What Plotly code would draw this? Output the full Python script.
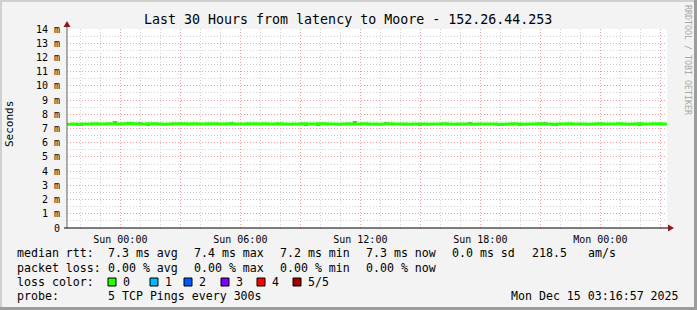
import plotly.graph_objects as go
import pandas as pd

# ---------------- data ----------------
title_text = "Last 30 Hours from latency to Moore - 152.26.44.253"
x_start = "2025-12-13 21:20"
x_end = "2025-12-15 03:20"
step = "15min"

median_ms = [
    7.30, 7.31, 7.28, 7.31, 7.32, 7.33, 7.32, 7.31, 7.33, 7.34, 7.32, 7.33,
    7.35, 7.33, 7.32, 7.31, 7.33, 7.34, 7.32, 7.30, 7.32, 7.33, 7.34, 7.33,
    7.32, 7.33, 7.31, 7.32, 7.34, 7.33, 7.32, 7.31, 7.33, 7.32, 7.31, 7.32,
    7.33, 7.34, 7.32, 7.33, 7.31, 7.32, 7.33, 7.32, 7.30, 7.31, 7.32, 7.33,
    7.32, 7.31, 7.33, 7.34, 7.32, 7.31, 7.30, 7.32, 7.33, 7.31, 7.32, 7.33,
    7.31, 7.32, 7.30, 7.31, 7.33, 7.32, 7.31, 7.32, 7.30, 7.31, 7.32, 7.31,
    7.30, 7.32, 7.31, 7.33, 7.32, 7.30, 7.31, 7.32, 7.31, 7.30, 7.32, 7.31,
    7.32, 7.31, 7.29, 7.30, 7.32, 7.33, 7.31, 7.30, 7.32, 7.31, 7.33, 7.32,
    7.31, 7.28, 7.32, 7.31, 7.33, 7.32, 7.31, 7.32, 7.30, 7.31, 7.33, 7.32,
    7.31, 7.32, 7.33, 7.31, 7.30, 7.32, 7.33, 7.32, 7.31, 7.33, 7.34, 7.32,
    7.33,
]

smoke_times = [
    "2025-12-13 21:44", "2025-12-13 23:44", "2025-12-14 00:05", "2025-12-14 00:59",
    "2025-12-14 01:23", "2025-12-14 03:59", "2025-12-14 05:35", "2025-12-14 09:17",
    "2025-12-14 09:53", "2025-12-14 11:44", "2025-12-14 13:17", "2025-12-14 14:59",
    "2025-12-14 17:29", "2025-12-14 19:59", "2025-12-14 21:14", "2025-12-14 22:59",
    "2025-12-15 00:29", "2025-12-15 01:59",
]
smoke_lo = [7.22, 7.30, 7.22, 7.30, 7.20, 7.22, 7.30, 7.18, 7.20, 7.30, 7.30, 7.22,
            7.30, 7.20, 7.30, 7.22, 7.30, 7.20]
smoke_hi = [7.40, 7.52, 7.40, 7.46, 7.36, 7.38, 7.44, 7.36, 7.34, 7.50, 7.46, 7.36,
            7.44, 7.36, 7.46, 7.38, 7.42, 7.36]

grid_start = "2025-12-14 00:00"
grid_end = "2025-12-15 03:00"
x_tick_labels = {"2025-12-14 00:00": "Sun 00:00", "2025-12-14 06:00": "Sun 06:00",
                 "2025-12-14 12:00": "Sun 12:00", "2025-12-14 18:00": "Sun 18:00",
                 "2025-12-15 00:00": "Mon 00:00"}
y_tick_values = list(range(0, 15))
y_tick_labels = ["0"] + [f"{v} m" for v in range(1, 15)]

legend_rtt = ["7.3 ms avg", "7.4 ms max", "7.2 ms min", "7.3 ms now", "0.0 ms sd", "218.5", "am/s"]
legend_loss = ["0.00 % avg", "0.00 % max", "0.00 % min", "0.00 % now"]
loss_labels = ["0", "1", "2", "3", "4", "5/5"]
loss_colors = ["#26ff00", "#00b8ff", "#0059ff", "#7e00ff", "#ff0000", "#a00000"]
probe_text = "5 TCP Pings every 300s"
stamp_text = "Mon Dec 15 03:16:57 2025"

# ---------------- geometry helpers ----------------
W, H = 697, 310
L, T, PW, PH = 67, 29, 600, 199
def px(x):
    return (x - L) / PW
def py(y):
    return (T + PH - y) / PH

MONO = "DejaVu Sans Mono"

times = pd.date_range(x_start, periods=len(median_ms), freq=step)
grid_times = pd.date_range(grid_start, grid_end, freq="3h")
tickvals = [t.strftime("%Y-%m-%d %H:%M") for t in grid_times]
ticktext = [x_tick_labels.get(v, "") for v in tickvals]

fig = go.Figure()
fig.add_trace(go.Bar(
    x=pd.to_datetime(smoke_times),
    y=[h - l for h, l in zip(smoke_hi, smoke_lo)],
    base=smoke_lo,
    width=10 * 60 * 1000,
    marker=dict(color="#9a9a9a", line=dict(width=0)),
    hoverinfo="skip",
))
fig.add_trace(go.Scatter(
    x=times, y=median_ms, mode="lines",
    line=dict(color="#26ff00", width=3, shape="hv"),
))

fig.update_layout(
    width=W, height=H,
    margin=dict(l=L, r=W - L - PW, t=T, b=H - T - PH, pad=0),
    paper_bgcolor="#f3f3f3",
    plot_bgcolor="#ffffff",
    showlegend=False,
    font=dict(family=MONO, size=10, color="#000000"),
    bargap=0,
)
fig.update_xaxes(
    type="date", range=[x_start, x_end],
    tickmode="array", tickvals=tickvals, ticktext=ticktext,
    ticks="", ticklabelstandoff=4,
    tickfont=dict(family=MONO, size=10),
    showgrid=True, gridcolor="#f0a0a0", griddash="1px,2px", gridwidth=1,
    minor=dict(dtick=3600000, tick0="2025-12-13 00:00", showgrid=True,
               gridcolor="#d2d2d2", griddash="1px,2px", gridwidth=1),
    showline=False, zeroline=False,
)
fig.update_yaxes(
    range=[0, 14],
    tickmode="array", tickvals=y_tick_values, ticktext=y_tick_labels,
    ticks="", ticklabelstandoff=6,
    tickfont=dict(family=MONO, size=10),
    showgrid=True, gridcolor="#f0a0a0", griddash="1px,2px", gridwidth=1,
    minor=dict(dtick=0.5, showgrid=True, gridcolor="#d2d2d2", griddash="1px,2px", gridwidth=1),
    showline=False, zeroline=False,
)

shapes = []
# axis lines with arrows
shapes.append(dict(type="line", xref="paper", yref="paper", x0=px(67), x1=px(67), y0=py(228), y1=py(25),
                   line=dict(color="#606060", width=1)))
shapes.append(dict(type="line", xref="paper", yref="paper", x0=px(64), x1=px(670), y0=py(228), y1=py(228),
                   line=dict(color="#000000", width=1)))
shapes.append(dict(type="path", xref="paper", yref="paper",
                   path=f"M {px(63.5)},{py(27)} L {px(70.5)},{py(27)} L {px(67)},{py(21)} Z",
                   fillcolor="#8b1a1a", line=dict(width=0)))
shapes.append(dict(type="path", xref="paper", yref="paper",
                   path=f"M {px(668)},{py(224.5)} L {px(668)},{py(231.5)} L {px(674)},{py(228)} Z",
                   fillcolor="#8b1a1a", line=dict(width=0)))
# frame
shapes.append(dict(type="rect", xref="paper", yref="paper", x0=px(0), x1=px(697), y0=py(0), y1=py(2),
                   fillcolor="#d0d0d0", line=dict(width=0)))
shapes.append(dict(type="rect", xref="paper", yref="paper", x0=px(0), x1=px(2), y0=py(0), y1=py(310),
                   fillcolor="#d0d0d0", line=dict(width=0)))
shapes.append(dict(type="rect", xref="paper", yref="paper", x0=px(694), x1=px(697), y0=py(0), y1=py(310),
                   fillcolor="#9c9c9c", line=dict(width=0)))
shapes.append(dict(type="rect", xref="paper", yref="paper", x0=px(0), x1=px(697), y0=py(307), y1=py(310),
                   fillcolor="#9c9c9c", line=dict(width=0)))

annotations = []
def ann(x, y, text, size=11.6, xanchor="left", color="#000000", angle=0, family=MONO):
    annotations.append(dict(x=px(x), y=py(y), xref="paper", yref="paper", text=text,
                            showarrow=False, xanchor=xanchor, yanchor="middle",
                            textangle=angle, borderpad=0,
                            font=dict(family=family, size=size, color=color)))

ann(348, 19, title_text, size=13.3, xanchor="center")
ann(10, 124, "Seconds", size=11, xanchor="center", angle=-90)
ann(688, 60, "RRDTOOL / TOBI OETIKER", size=8.3, xanchor="center", angle=90, color="#a8a8a8")

row_y = [253, 268, 282, 296]
col_x = [107, 193, 279, 365, 451, 531, 587]
ann(16, row_y[0], "median rtt:")
for x, t in zip(col_x, legend_rtt):
    ann(x, row_y[0], t)
ann(16, row_y[1], "packet loss:")
for x, t in zip(col_x, legend_loss):
    ann(x, row_y[1], t)
ann(16, row_y[2], "loss color:")
box_x = [108, 150, 184, 221, 257, 293]
for bx, lab, col in zip(box_x, loss_labels, loss_colors):
    shapes.append(dict(type="rect", xref="paper", yref="paper",
                       x0=px(bx), x1=px(bx + 8), y0=py(278), y1=py(286),
                       fillcolor=col, line=dict(color="#000000", width=1)))
    ann(bx + 14, row_y[2], lab)
ann(16, row_y[3], "probe:")
ann(107, row_y[3], probe_text)
ann(680, row_y[3], stamp_text, xanchor="right")

fig.update_layout(shapes=shapes, annotations=annotations)
fig.write_html("out.html")
